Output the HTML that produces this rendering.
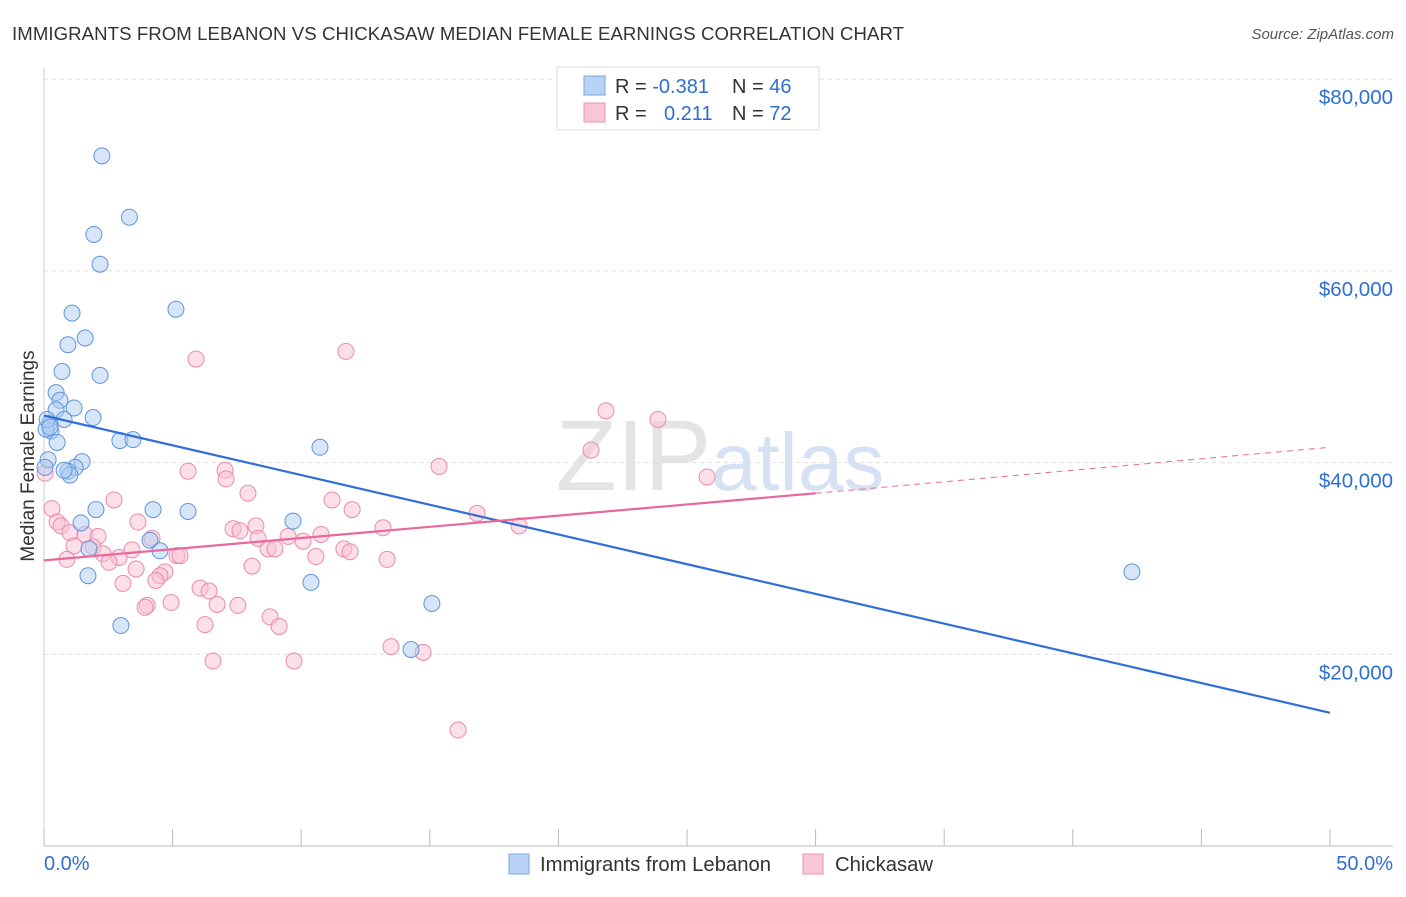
<!DOCTYPE html>
<html><head><meta charset="utf-8"><style>
body{margin:0;background:#fff;font-family:"Liberation Sans",sans-serif}
svg text{font-family:"Liberation Sans",sans-serif}
</style></head><body>
<svg id="c" width="1406" height="892">
<text x="12" y="40" font-size="18.6" fill="#333" textLength="892">IMMIGRANTS FROM LEBANON VS CHICKASAW MEDIAN FEMALE EARNINGS CORRELATION CHART</text>
<text x="1394" y="39" font-size="15" fill="#555" font-style="italic" text-anchor="end">Source: ZipAtlas.com</text>
<text x="720" y="490" font-size="100" fill="#e4e4e4" text-anchor="middle" font-family="Liberation Serif">ZIP<tspan fill="#d6e2f3" font-family="Liberation Sans" font-size="82">atlas</tspan></text>
<text transform="translate(34,456) rotate(-90)" font-size="19" fill="#333" text-anchor="middle">Median Female Earnings</text>
<g id="grid"></g><g id="marks"></g>
<g>
<rect x="557" y="67" width="262" height="63" fill="#fff" stroke="#ddd"/>
<rect x="584" y="76" width="21" height="19" fill="#b8d3f5" stroke="#7aa7e0"/>
<rect x="584" y="103" width="21" height="19" fill="#f9c6d6" stroke="#ee93b0"/>
<text x="615" y="93" font-size="20" fill="#333">R = <tspan fill="#2f6fd0">-0.381</tspan><tspan x="732">N = </tspan><tspan fill="#2f6fd0">46</tspan></text>
<text x="615" y="120" font-size="20" fill="#333">R = <tspan x="664" fill="#2f6fd0">0.211</tspan><tspan x="732">N = </tspan><tspan fill="#2f6fd0">72</tspan></text>
</g>
<g>
<rect x="509" y="854" width="20" height="20" fill="#b8d3f5" stroke="#7aa7e0"/>
<text x="540" y="871" font-size="20.3" fill="#333">Immigrants from Lebanon</text>
<rect x="803" y="854" width="20" height="20" fill="#f9c6d6" stroke="#ee93b0"/>
<text x="835" y="871" font-size="20.3" fill="#333">Chickasaw</text>
</g>
<text x="44" y="870" font-size="20" fill="#2f6fd0">0.0%</text>
<text x="1393" y="870" font-size="20" fill="#2f6fd0" text-anchor="end">50.0%</text>
</svg>
<script>
const yTicks=[20000,40000,60000,80000];
const yTickLabels=["$20,000","$40,000","$60,000","$80,000"];
const xTicks=[0,5,10,15,20,25,30,35,40,45,50];
const blueX=[2.25,3.32,1.94,2.18,5.13,1.09,1.6,0.93,0.7,2.18,0.47,0.62,1.17,0.47,1.91,0.78,0.23,0.27,0.08,2.95,3.46,10.73,1.48,1.21,0.93,1.01,2.02,4.24,5.6,9.68,1.44,4.12,4.51,1.75,1.71,10.38,15.08,2.99,14.27,42.3,0.16,0.04,0.51,0.78,0.12,0.23];
const blueY=[72000,65600,63800,60700,56000,55600,53000,52300,49500,49100,47300,46500,45700,45500,44700,44500,44100,43300,43500,42300,42400,41600,40100,39500,39100,38700,35100,35100,34900,33900,33700,31900,30800,31000,28200,27500,25300,23000,20500,28600,40300,39500,42100,39200,44500,43700];
const pinkX=[0.04,5.91,11.74,21.85,23.87,21.27,15.36,25.78,5.6,7.04,7.08,7.93,11.2,2.72,0.31,0.51,0.66,3.65,11.98,16.84,18.47,13.18,10.77,7.35,7.62,8.24,9.49,10.07,8.32,4.2,1.01,1.59,2.1,1.17,1.91,3.42,2.29,5.17,5.29,8.71,8.98,11.66,11.9,10.57,13.34,0.89,2.92,2.53,8.09,3.58,4.7,4.51,4.35,3.07,6.07,6.42,4.94,4.01,3.93,6.73,7.54,8.79,9.14,6.26,6.57,9.72,13.49,14.74,16.1];
const pinkY=[38900,50800,51600,45400,44500,41300,39600,38500,39100,39200,38300,36800,36100,36100,35200,33800,33400,33800,35100,34700,33400,33200,32500,33100,32900,33400,32300,31800,32100,32100,32700,32500,32300,31300,31200,30900,30500,30300,30300,31000,31000,31000,30700,30200,29900,29900,30100,29600,29200,28900,28600,28200,27700,27400,26900,26600,25400,25100,24900,25200,25100,23900,22900,23100,19300,19300,20800,20200,12100];
const blueLine=[[0,44900],[50,13900]];
const pinkLine=[[0,29800],[30,36800],[50,41600]];
const X=v=>44+v/50*1286, Y=v=>846-v/20000*191.7;
const NS="http://www.w3.org/2000/svg";
function mk(t,a,p){const e=document.createElementNS(NS,t);for(const k in a)e.setAttribute(k,a[k]);p.appendChild(e);return e;}
const g=document.getElementById('grid'),m=document.getElementById('marks');
mk('line',{x1:44,y1:846,x2:1393,y2:846,stroke:'#bbb'},g);
mk('line',{x1:44,y1:68,x2:44,y2:846,stroke:'#ccc'},g);
yTicks.forEach((v,i)=>{
 const l=mk('line',{x1:44,y1:Y(v),x2:1393,y2:Y(v),stroke:'#ddd','stroke-dasharray':'4,4'},g);
 
 
 const t=mk('text',{x:1393,y:Y(v)+25,'font-size':20.5,fill:'#2f6fd0','text-anchor':'end'},g);
 t.textContent=yTickLabels[i];
 
 
});
xTicks.forEach(v=>{
 const l=mk('line',{x1:X(v),y1:829,x2:X(v),y2:846,stroke:'#bbb'},g);
 
 
});
function pts(xs,ys,fill,stroke,name){xs.forEach((x,i)=>{
 const c=mk('circle',{cx:X(x),cy:Y(ys[i]),r:8,fill:fill,stroke:stroke,'stroke-width':1,'fill-opacity':0.5},m);
 
 
});}
pts(pinkX,pinkY,'#f9c0d2','#ea8aab','chickasaw-point');
pts(blueX,blueY,'#aecbf2','#5f95dc','lebanon-point');
const bl=mk('line',{x1:X(blueLine[0][0]),y1:Y(blueLine[0][1]),x2:X(blueLine[1][0]),y2:Y(blueLine[1][1]),stroke:'#2f6fd6','stroke-width':2.2},m);


const pl=mk('line',{x1:X(pinkLine[0][0]),y1:Y(pinkLine[0][1]),x2:X(pinkLine[1][0]),y2:Y(pinkLine[1][1]),stroke:'#e8689a','stroke-width':2.2},m);


const pd=mk('line',{x1:X(pinkLine[1][0]),y1:Y(pinkLine[1][1]),x2:X(pinkLine[2][0]),y2:Y(pinkLine[2][1]),stroke:'#e8689a','stroke-width':1,'stroke-dasharray':'6,5'},m);


</script>
</body></html>
